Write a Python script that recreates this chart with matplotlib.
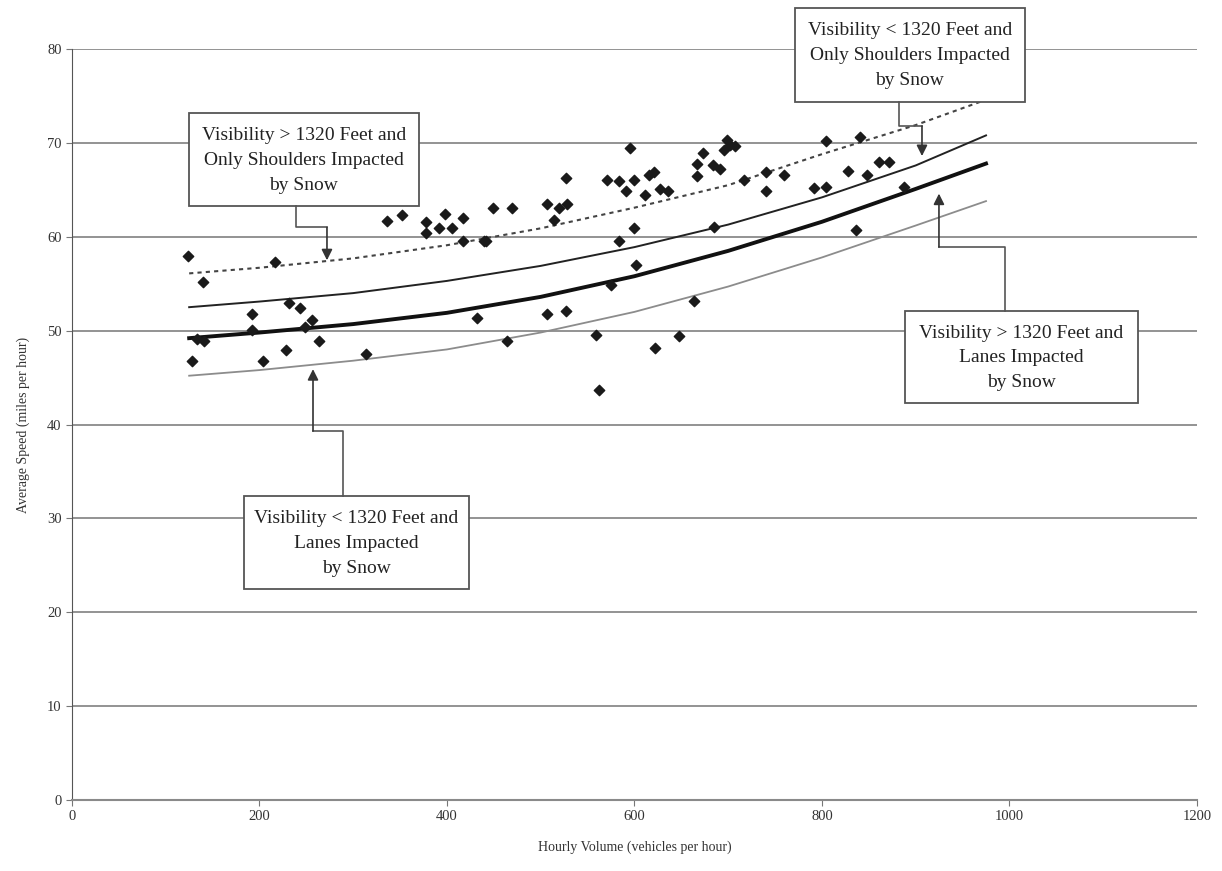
import matplotlib
matplotlib.use("Agg")
import matplotlib.pyplot as plt
from matplotlib.patches import Rectangle

plt.rcParams['font.family'] = ['Liberation Serif', 'DejaVu Serif']

# observed points: hourly volume vs average speed
vol = [124, 140, 133, 141, 128, 192, 192, 204, 217, 232, 243, 256, 249, 263, 228, 314,
       336, 352, 378, 378, 392, 398, 405, 417, 417, 439, 442, 449, 469, 432, 464,
       507, 520, 528, 514, 527, 507, 527, 559, 562, 595, 571, 584, 600, 591, 616,
       621, 611, 627, 636, 600, 583, 602, 575, 622, 647, 667, 667, 673, 684, 691,
       696, 699, 702, 707, 717, 740, 740, 760, 804, 841, 792, 804, 828, 848, 861,
       872, 887, 685, 664, 836]
speed = [57.9, 55.2, 49.1, 48.9, 46.8, 51.8, 50.1, 46.8, 57.3, 52.9, 52.4, 51.1, 50.4, 48.9, 47.9, 47.5,
         61.7, 62.3, 61.6, 60.4, 60.9, 62.4, 60.9, 62.0, 59.5, 59.6, 59.5, 63.1, 63.1, 51.4, 48.9,
         63.5, 63.1, 63.5, 61.8, 66.3, 51.8, 52.1, 49.5, 43.7, 69.5, 66.0, 65.9, 66.0, 64.9, 66.6,
         66.9, 64.4, 65.1, 64.9, 60.9, 59.6, 57.0, 54.9, 48.2, 49.4, 66.5, 67.8, 68.9, 67.6, 67.2,
         69.2, 70.3, 69.8, 69.7, 66.0, 66.9, 64.9, 66.6, 70.2, 70.6, 65.2, 65.3, 67.0, 66.6, 68.0,
         68.0, 65.3, 61.0, 53.2, 60.7]

# fitted curves
curve_x = [125, 200, 300, 400, 500, 600, 700, 800, 900, 975]
vis_hi_shoulders = [56.1, 56.7, 57.7, 59.1, 60.9, 63.1, 65.5, 68.8, 71.9, 74.6]
vis_lo_shoulders = [52.5, 53.1, 54.0, 55.3, 56.9, 58.9, 61.3, 64.2, 67.6, 70.8]
vis_hi_lanes = [49.2, 49.8, 50.7, 51.9, 53.6, 55.8, 58.5, 61.6, 65.1, 67.8]
vis_lo_lanes = [45.2, 45.8, 46.8, 48.0, 49.8, 52.0, 54.7, 57.8, 61.2, 63.8]

fig = plt.figure(figsize=(12.22, 8.71), dpi=100)
ax = fig.add_axes([0.0589, 0.0815, 0.9206, 0.8622])

for g in range(10, 81, 10):
    ax.axhline(g, color='#8a8a8a', lw=1.3, zorder=1)

ax.plot(curve_x, vis_hi_shoulders, color='#444444', lw=1.5, ls=(0, (2, 2)), zorder=3)
ax.plot(curve_x, vis_lo_shoulders, color='#222222', lw=1.4, zorder=3)
ax.plot(curve_x, vis_hi_lanes, color='#111111', lw=2.8, zorder=3)
ax.plot(curve_x, vis_lo_lanes, color='#8c8c8c', lw=1.3, zorder=3)
ax.scatter(vol, speed, marker='D', s=28, color='#1a1a1a', zorder=4)

ax.set_xlim(0, 1200)
ax.set_ylim(0, 80)
ax.set_xticks(range(0, 1201, 200))
ax.set_yticks(range(0, 81, 10))
ax.tick_params(labelsize=10.5, color='#777777', length=4, labelcolor='#333333')
for s in ['top', 'right']:
    ax.spines[s].set_visible(False)
ax.spines['left'].set_color('#555555')
ax.spines['bottom'].set_color('#8a8a8a')
ax.spines['bottom'].set_linewidth(1.5)
ax.set_xlabel('Hourly Volume (vehicles per hour)', fontsize=10, color='#333333', labelpad=12)
ax.set_ylabel('Average Speed (miles per hour)', fontsize=10, color='#333333', labelpad=12)

# callout boxes: (x0, x1, y0, y1, text, connector path)
boxes = [
    (124.8, 370.1, 63.3, 73.2, 'Visibility > 1320 Feet and\nOnly Shoulders Impacted\nby Snow',
     [(238.9, 63.3), (238.9, 61.0), (272.0, 61.0), (272.0, 57.5)]),
    (771.2, 1016.5, 74.4, 84.4, 'Visibility < 1320 Feet and\nOnly Shoulders Impacted\nby Snow',
     [(882.1, 74.4), (882.1, 71.8), (906.7, 71.8), (906.7, 68.6)]),
    (888.5, 1137.1, 42.3, 52.1, 'Visibility > 1320 Feet and\nLanes Impacted\nby Snow',
     [(995.2, 52.1), (995.2, 58.9), (924.8, 58.9), (924.8, 64.6)]),
    (183.5, 423.5, 22.5, 32.4, 'Visibility < 1320 Feet and\nLanes Impacted\nby Snow',
     [(289.1, 32.4), (289.1, 39.3), (257.1, 39.3), (257.1, 45.9)]),
]
for x0, x1, y0, y1, txt, path in boxes:
    ax.add_patch(Rectangle((x0, y0), x1 - x0, y1 - y0, facecolor='white', edgecolor='#555555',
                           lw=1.3, zorder=5, clip_on=False))
    ax.text((x0 + x1) / 2, (y0 + y1) / 2 - 0.1, txt, ha='center', va='center',
            multialignment='center', fontsize=14, color='#222222', linespacing=1.6,
            zorder=6, clip_on=False)
    px = [p[0] for p in path]
    py = [p[1] for p in path]
    ax.plot(px[:-1], py[:-1], color='#555555', lw=1.2, zorder=5, clip_on=False)
    ax.annotate('', xy=path[-1], xytext=path[-2],
                arrowprops=dict(arrowstyle='-|>', color='#333333', lw=1.2,
                                mutation_scale=16, shrinkA=0, shrinkB=0),
                zorder=5, annotation_clip=False)

fig.savefig('out.png', dpi=100, facecolor='white')
